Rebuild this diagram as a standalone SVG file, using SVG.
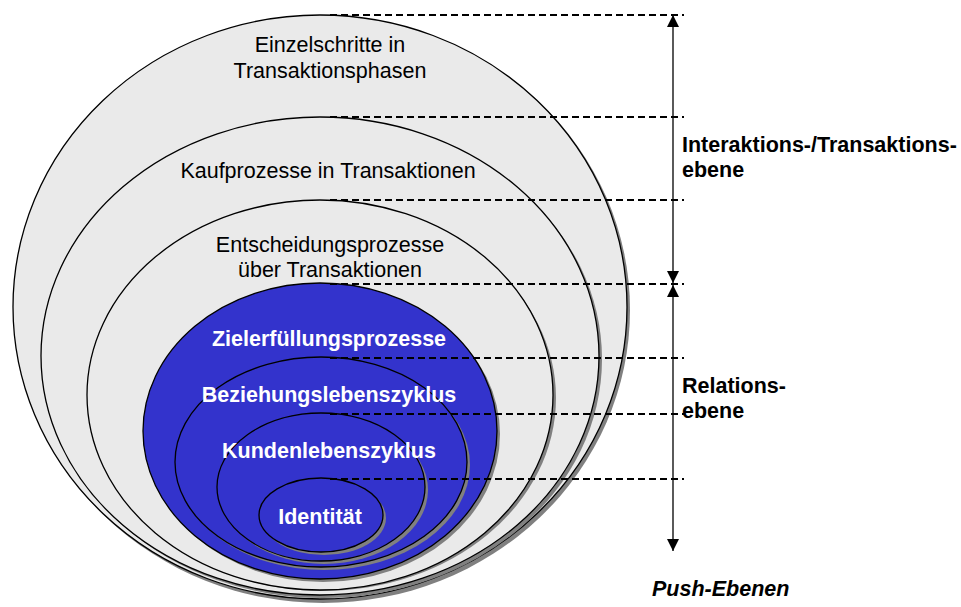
<svg xmlns="http://www.w3.org/2000/svg" width="961" height="607" viewBox="0 0 961 607">
  <defs>
    <marker id="arr" viewBox="0 0 12 12" refX="12" refY="6" markerWidth="12" markerHeight="12" markerUnits="userSpaceOnUse" orient="auto-start-reverse">
      <path d="M0,0 L12,6 L0,12 Z" fill="#000"/>
    </marker>
    <style>
      .shadow { fill: #808080; stroke: none; }
      .ring { fill: #EAEAEA; stroke: #000; stroke-width: 1.3; }
      .core { fill: #3333CC; stroke: #000; stroke-width: 1.3; }
      .dash { stroke: #000; stroke-width: 1.8; stroke-dasharray: 7 4; fill: none; }
      .axis { stroke: #000; stroke-width: 1.3; fill: none; }
      .lbl { font-family: "Liberation Sans", Arial, sans-serif; font-size: 21.5px; fill: #000; text-anchor: middle; }
      .inner { font-family: "Liberation Sans", Arial, sans-serif; font-size: 21.5px; font-weight: bold; fill: #fff; text-anchor: middle; }
      .side { font-family: "Liberation Sans", Arial, sans-serif; font-size: 21.5px; font-weight: bold; fill: #000; }
    </style>
  </defs>
  <rect width="961" height="607" fill="#fff"/>

  <!-- nested levels, outermost first -->
  <g id="einzelschritte">
    <ellipse class="shadow" cx="323" cy="310" rx="307" ry="293"/>
    <ellipse class="ring" cx="320" cy="307" rx="307" ry="292"/>
    <text class="lbl" x="330" y="52">Einzelschritte in</text>
    <text class="lbl" x="330" y="78">Transaktionsphasen</text>
  </g>
  <g id="kaufprozesse">
    <ellipse class="shadow" cx="323" cy="359" rx="279" ry="239"/>
    <ellipse class="ring" cx="320" cy="356" rx="279" ry="239"/>
    <text class="lbl" x="328" y="178">Kaufprozesse in Transaktionen</text>
  </g>
  <g id="entscheidungsprozesse">
    <ellipse class="shadow" cx="323" cy="398" rx="233" ry="193"/>
    <ellipse class="ring" cx="320" cy="395" rx="233" ry="195"/>
    <text class="lbl" x="330" y="252">Entscheidungsprozesse</text>
    <text class="lbl" x="330" y="277">über Transaktionen</text>
  </g>
  <g id="zielerfuellung">
    <ellipse class="shadow" cx="323" cy="434" rx="177" ry="148"/>
    <ellipse class="core" cx="320" cy="431" rx="177" ry="148"/>
    <text class="inner" x="329" y="346">Zielerfüllungsprozesse</text>
  </g>
  <g id="beziehungslebenszyklus">
    <ellipse class="shadow" cx="324" cy="465" rx="146" ry="105"/>
    <ellipse class="core" cx="321" cy="462" rx="146" ry="105"/>
    <text class="inner" x="329" y="402">Beziehungslebenszyklus</text>
  </g>
  <g id="kundenlebenszyklus">
    <ellipse class="shadow" cx="324" cy="490" rx="104" ry="74"/>
    <ellipse class="core" cx="321" cy="487" rx="104" ry="74"/>
    <text class="inner" x="329" y="458">Kundenlebenszyklus</text>
  </g>
  <g id="identitaet">
    <ellipse class="shadow" cx="324" cy="518" rx="62" ry="37"/>
    <ellipse class="core" cx="321" cy="515" rx="62" ry="37"/>
    <text class="inner" x="320" y="524">Identität</text>
  </g>

  <!-- level boundaries and push axes -->
  <g id="connectors">
    <line class="dash" x1="330" y1="15" x2="684" y2="15"/>
    <line class="dash" x1="330" y1="117" x2="684" y2="117"/>
    <line class="dash" x1="330" y1="200" x2="684" y2="200"/>
    <line class="dash" x1="330" y1="284" x2="684" y2="284"/>
    <line class="dash" x1="330" y1="358" x2="684" y2="358"/>
    <line class="dash" x1="330" y1="414" x2="684" y2="414"/>
    <line class="dash" x1="330" y1="479" x2="684" y2="479"/>
    <line class="axis" x1="673" y1="15" x2="673" y2="283" marker-start="url(#arr)" marker-end="url(#arr)"/>
    <line class="axis" x1="673" y1="285" x2="673" y2="551" marker-start="url(#arr)" marker-end="url(#arr)"/>
  </g>

  <g id="interaktionsebene">
    <text class="side" x="682" y="152">Interaktions-/Transaktions-</text>
    <text class="side" x="682" y="177">ebene</text>
  </g>
  <g id="relationsebene">
    <text class="side" x="682" y="393">Relations-</text>
    <text class="side" x="682" y="418">ebene</text>
  </g>
  <g id="push-ebenen">
    <text class="side" x="652" y="596" font-style="italic">Push-Ebenen</text>
  </g>
</svg>
